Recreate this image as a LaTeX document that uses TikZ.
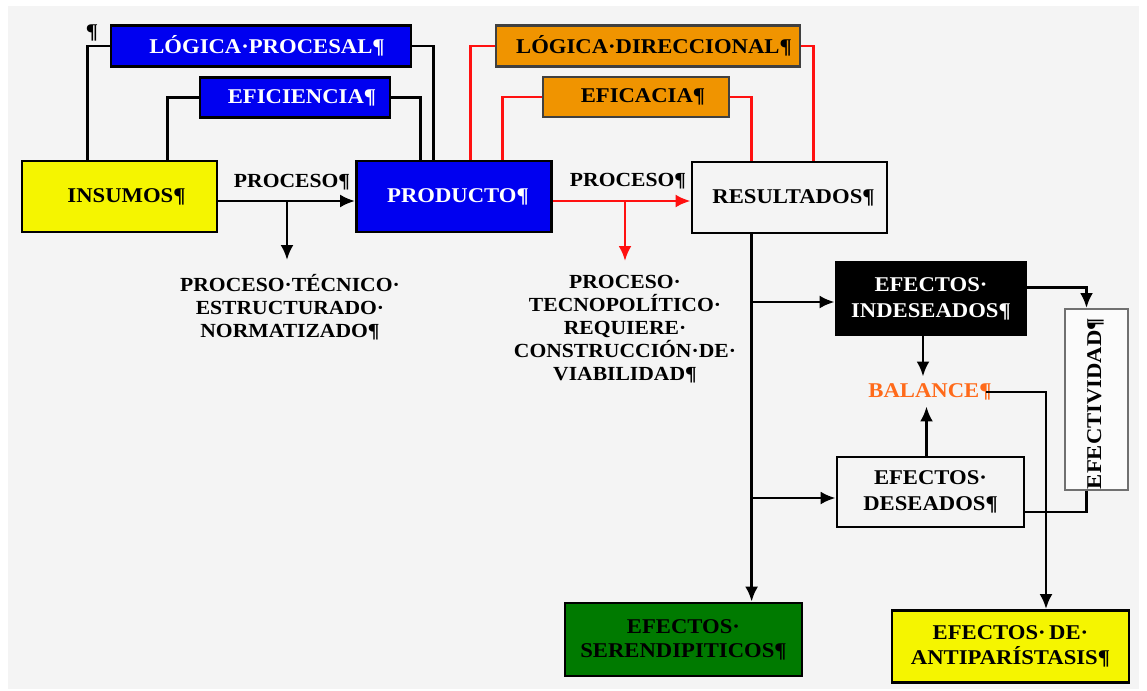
\documentclass[tikz,border=0pt]{standalone}
\usepackage{fontspec}
\setmainfont{Liberation Serif}[FakeStretch=1.08]
\usetikzlibrary{arrows.meta}
\definecolor{bg}{HTML}{F4F4F4}
\definecolor{bblue}{HTML}{0000F0}
\definecolor{borange}{HTML}{F09400}
\definecolor{byellow}{HTML}{F5F500}
\definecolor{bgreen}{HTML}{007A00}
\definecolor{balor}{HTML}{FF6A1A}
\definecolor{lred}{HTML}{FF1010}
\definecolor{efgray}{HTML}{707070}
\tikzset{
  box/.style={draw=black, line width=2.8pt, inner sep=0pt, align=center,
    font=\fontsize{21}{26}\selectfont\bfseries},
  obox/.style={box, draw=black!75, line width=2.2pt, fill=borange},
  bluebox/.style={box, fill=bblue, text=white},
  plain/.style={inner sep=2pt, align=center, font=\fontsize{20}{23}\selectfont\bfseries},
  conn/.style={line width=2.8pt, draw=black},
  rconn/.style={line width=2.8pt, draw=lred},
  tip/.style={-{Latex[length=15pt,width=13pt]}},
  pushr/.style={execute at begin node={\hspace*{#1}}}
}
\begin{document}
\begin{tikzpicture}[x=1pt,y=-1pt]
\useasboundingbox (0,0) rectangle (1147,690);
\fill[white] (0,0) rectangle (1147,690);
\fill[bg] (8,6) rectangle (1139,689);

% boxes
\node[box, fill=byellow, minimum width=195pt, minimum height=71pt, pushr=14pt] (ins) at (119.5,196.5) {INSUMOS¶};
\node[bluebox, minimum width=300pt, minimum height=41pt, pushr=12pt] (lp) at (261,46) {LÓGICA·PROCESAL¶};
\node[bluebox, minimum width=190pt, minimum height=40pt, pushr=14pt] (efi) at (295,97.5) {EFICIENCIA¶};
\node[bluebox, minimum width=195pt, minimum height=71pt, pushr=8pt] (prod) at (454,196.5) {PRODUCTO¶};
\node[obox, minimum width=304pt, minimum height=41pt, pushr=12pt] (ld) at (648,46) {LÓGICA·DIRECCIONAL¶};
\node[obox, minimum width=186pt, minimum height=40pt, pushr=14pt] (efa) at (636,97) {EFICACIA¶};
\node[box, fill=bg, minimum width=195pt, minimum height=71pt, pushr=8pt] (res) at (789.5,197.5) {RESULTADOS¶};
\node[box, fill=black, text=white, minimum width=190pt, minimum height=73pt] (ind) at (931,298.5) {EFECTOS·\\INDESEADOS¶};
\node[box, fill=bg, minimum width=187pt, minimum height=70pt] (des) at (930.5,492) {EFECTOS·\\DESEADOS¶};
\node[box, draw=efgray, line width=2pt, fill=white!60!bg, minimum width=63pt, minimum height=181pt] (efe) at (1096.5,399.5) {};
\node[rotate=90, font=\fontsize{21}{26}\selectfont\bfseries, inner sep=0pt] (efet) at ([xshift=-1pt,yshift=-4pt]efe.center) {EFECTIVIDAD¶};
\node[box, fill=bgreen, minimum width=237pt, minimum height=73pt, font=\fontsize{21}{24}\selectfont\bfseries] (ser) at (683.5,639.5) {EFECTOS·\\SERENDIPITICOS¶};
\node[box, fill=byellow, minimum width=237pt, minimum height=72pt, font=\fontsize{21}{25}\selectfont\bfseries] (ant) at (1010.5,646.5) {EFECTOS·\,DE·\\ANTIPARÍSTASIS¶};

% free texts
\node[plain, font=\fontsize{21}{23}\selectfont\bfseries] (pil) at (92,33) {¶};
\node[plain] (pl1) at (292,182) {PROCESO¶};
\node[plain] (pl2) at (628,181) {PROCESO¶};
\node[plain, anchor=north] (pt1) at (290,272) {PROCESO·TÉCNICO·\\ESTRUCTURADO·\\NORMATIZADO¶};
\node[plain, anchor=north] (pt2) at (625,273) {PROCESO·\\TECNOPOLÍTICO·\\REQUIERE·\\CONSTRUCCIÓN·DE·\\VIABILIDAD¶};
\node[plain, text=balor, font=\fontsize{21}{23}\selectfont\bfseries] (bal) at (930,392) {BALANCE¶};

% black connectors (left)
\draw[conn] ([xshift=67pt]ins.north west) |- (lp.west);
\draw[conn] (lp.east) -| ([xshift=78pt]prod.north west);
\draw[conn] ([xshift=147pt]ins.north west) |- (efi.west);
\draw[conn] (efi.east) -| ([xshift=65pt]prod.north west);
\draw[conn, tip] ([yshift=-4.5pt]ins.east) -- ([yshift=-4.5pt]prod.west);
\coordinate (b1) at (287,201);
\draw[conn, tip] (b1) -- ([yshift=12pt]pt1.north -| b1);

% red connectors
\draw[rconn] ([xshift=115pt]prod.north west) |- (ld.west);
\draw[rconn] (ld.east) -| ([xshift=123pt]res.north west);
\draw[rconn] ([xshift=147pt]prod.north west) |- (efa.west);
\draw[rconn] (efa.east) -| ([xshift=61pt]res.north west);
\draw[rconn, tip] ([yshift=-4.5pt]prod.east) -- ([yshift=-3.5pt]res.west);
\coordinate (b2) at (625,201);
\draw[rconn, tip] (b2) -- ([yshift=12pt]pt2.north -| b2);

% effects
\coordinate (r1) at ([xshift=61pt]res.south west);
\draw[conn, tip] (r1) -- (r1 |- ser.north);
\draw[conn, tip] ([yshift=-3.5pt]ind.west -| r1) -- ([yshift=-3.5pt]ind.west);
\draw[conn, tip] ([yshift=-6pt]des.west -| r1) -- ([yshift=-6pt]des.west);
\coordinate (i1) at ([xshift=-8pt]ind.south);
\draw[conn, tip] (i1) -- ([yshift=5pt]i1 |- bal.north);
\coordinate (d1) at ([xshift=-4pt]des.north);
\draw[conn, tip] (d1) -- ([yshift=-4pt]d1 |- bal.south);
\draw[conn, tip] ([yshift=11pt]ind.east) -| ([xshift=-10pt]efe.north);
\draw[conn] ([yshift=-20pt]des.east) -| ([xshift=-10pt]efe.south);
\draw[conn, tip] ([xshift=-8pt]bal.east) -| ([xshift=35.5pt]ant.north);
\end{tikzpicture}
\end{document}
